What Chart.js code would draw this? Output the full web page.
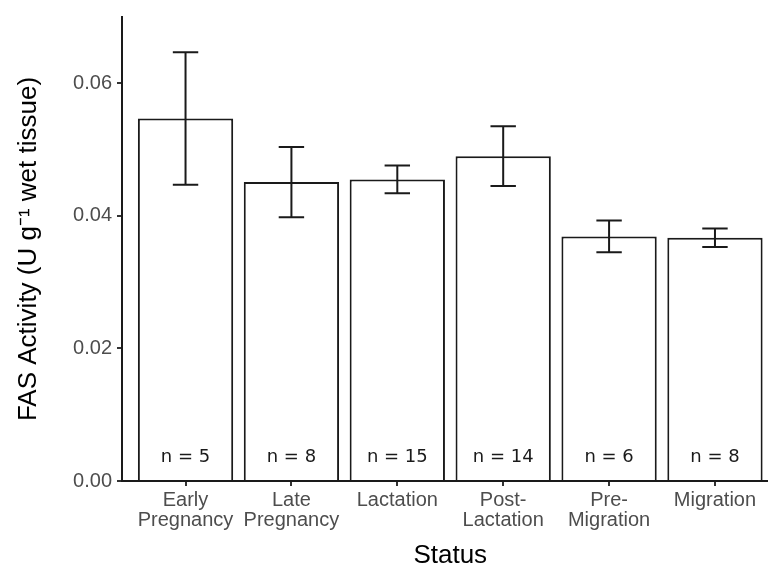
<!DOCTYPE html>
<html>
<head>
<meta charset="utf-8">
<title>FAS Activity by Status</title>
<script src="https://cdn.jsdelivr.net/npm/chart.js@4.4.1/dist/chart.umd.min.js"></script>
<style>
  html, body { margin: 0; padding: 0; background: #fff; overflow: hidden; }
  #wrap { width: 780px; height: 568px; }
</style>
</head>
<body>
<div id="wrap"><canvas id="grafico"></canvas></div>
<script>
// Dados
const categorias = [
  ['Early', 'Pregnancy'], ['Late', 'Pregnancy'], ['Lactation'],
  ['Post-', 'Lactation'], ['Pre-', 'Migration'], ['Migration']
];
const medias = [0.0547, 0.0451, 0.0455, 0.0490, 0.0369, 0.0367];
const erros = [0.0100, 0.0053, 0.0021, 0.0045, 0.0024, 0.0014];
const nAmostras = [5, 8, 15, 14, 6, 8];
const yTicks = [0, 0.02, 0.04, 0.06];

const fonte = 'Liberation Sans, Arial, sans-serif';

// barras de erro e rótulos "n = x"
const barrasErro = {
  id: 'barrasErro',
  afterDatasetsDraw(chart, args, opts) {
    const {ctx, scales: {x, y}} = chart;
    const meta = chart.getDatasetMeta(0);
    ctx.save();
    ctx.strokeStyle = opts.color;
    ctx.lineWidth = opts.width;
    meta.data.forEach((bar, i) => {
      const topo = y.getPixelForValue(medias[i] + erros[i]);
      const base = y.getPixelForValue(medias[i] - erros[i]);
      const esq = x.getPixelForValue(i + 1 - opts.cap / 2);
      const dir = x.getPixelForValue(i + 1 + opts.cap / 2);
      ctx.beginPath();
      ctx.moveTo(bar.x, topo); ctx.lineTo(bar.x, base);
      ctx.moveTo(esq, topo); ctx.lineTo(dir, topo);
      ctx.moveTo(esq, base); ctx.lineTo(dir, base);
      ctx.stroke();
    });
    ctx.fillStyle = '#1a1a1a';
    ctx.font = '18px "DejaVu Sans"';
    ctx.textAlign = 'center';
    ctx.textBaseline = 'middle';
    meta.data.forEach((bar, i) => {
      ctx.fillText('n = ' + nAmostras[i], bar.x, y.getPixelForValue(opts.labelY));
    });
    ctx.restore();
  }
};

new Chart(document.getElementById('grafico'), {
  type: 'bar',
  data: {
    datasets: [{
      data: medias.map((v, i) => ({x: i + 1, y: v})),
      backgroundColor: '#ffffff',
      borderColor: '#1a1a1a',
      borderWidth: 2,
      categoryPercentage: 1,
      barPercentage: 0.9
    }]
  },
  options: {
    responsive: true,
    maintainAspectRatio: false,
    animation: false,
    layout: { padding: { top: 16.5, right: 1.5, left: 0, bottom: 0 } },
    plugins: {
      legend: { display: false },
      tooltip: { enabled: false },
      barrasErro: { color: '#1a1a1a', width: 2, cap: 0.24, labelY: 0.0035 }
    },
    scales: {
      x: {
        type: 'linear',
        min: 0.4,
        max: 6.6,
        offset: false,
        afterBuildTicks: s => { s.ticks = categorias.map((c, i) => ({value: i + 1})); },
        afterFit: s => { s.height = 87; s.paddingLeft = 0; s.paddingRight = 0; },
        ticks: {
          autoSkip: false, maxRotation: 0, minRotation: 0,
          padding: 4,
          color: '#4d4d4d',
          font: { family: fonte, size: 20, lineHeight: 1.03 },
          callback: (v, i) => categorias[i]
        },
        grid: { offset: false, drawOnChartArea: false, tickLength: 5, tickColor: '#333', lineWidth: 2 },
        border: { color: '#1a1a1a', width: 2 },
        title: {
          display: true, text: 'Status', color: '#000',
          font: { family: fonte, size: 26, lineHeight: 0.9 },
          padding: { top: 0, bottom: 0 }
        }
      },
      y: {
        min: 0,
        max: 0.07,
        afterBuildTicks: s => { s.ticks = yTicks.map(v => ({value: v})); },
        afterFit: s => { s.width = 122; },
        ticks: {
          padding: 5,
          color: '#4d4d4d',
          font: { family: fonte, size: 20 },
          callback: v => v.toFixed(2)
        },
        grid: { drawOnChartArea: false, tickLength: 5, tickColor: '#333', lineWidth: 2 },
        border: { color: '#1a1a1a', width: 2 },
        title: {
          display: true, text: 'FAS Activity (U g⁻¹ wet tissue)', color: '#000',
          font: { family: fonte, size: 26, lineHeight: 1.2 },
          padding: { top: 13, bottom: 0 }
        }
      }
    }
  },
  plugins: [barrasErro]
});
</script>
</body>
</html>
